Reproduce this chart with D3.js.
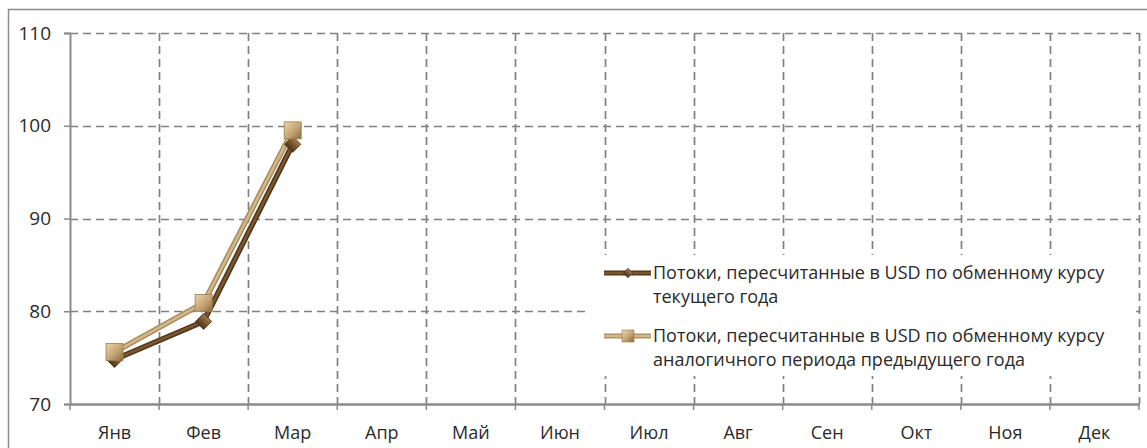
<!DOCTYPE html>
<html lang="ru">
<head>
<meta charset="UTF-8">
<title>Потоки</title>
<script src="https://cdn.jsdelivr.net/npm/d3@7"></script>
<style>
  body { margin: 0; background: #fff; }
  svg { display: block; font-family: "Open Sans", "Noto Sans", sans-serif; }
</style>
</head>
<body>
<div id="chart"></div>
<script>
const months = ["Янв", "Фев", "Мар", "Апр", "Май", "Июн", "Июл", "Авг", "Сен", "Окт", "Ноя", "Дек"];
const currentYear = [74.8, 78.9, 98.0];
const prevYear = [75.6, 80.9, 99.5];
const yTicks = [70, 80, 90, 100, 110];
const legendLabels = [
  ["Потоки, пересчитанные в USD по обменному курсу", "текущего года"],
  ["Потоки, пересчитанные в USD по обменному курсу", "аналогичного периода предыдущего года"]
];

const width = 1147, height = 448;
const marginLeft = 70, marginRight = 8, marginTop = 33, marginBottom = 44;
const font = "'Open Sans', 'Noto Sans', sans-serif";

const svg = d3.select("#chart").append("svg")
  .attr("width", width)
  .attr("height", height);

const defs = svg.append("defs");
const gradDark = defs.append("linearGradient").attr("id", "gDark")
  .attr("x1", 0).attr("y1", 0).attr("x2", 0).attr("y2", 1);
gradDark.append("stop").attr("offset", "0%").attr("stop-color", "#a07a4a");
gradDark.append("stop").attr("offset", "100%").attr("stop-color", "#4e3418");
const gradLight = defs.append("linearGradient").attr("id", "gLight")
  .attr("x1", 0).attr("y1", 0).attr("x2", 1).attr("y2", 1);
gradLight.append("stop").attr("offset", "0%").attr("stop-color", "#ead6ae");
gradLight.append("stop").attr("offset", "55%").attr("stop-color", "#c4a472");
gradLight.append("stop").attr("offset", "100%").attr("stop-color", "#8a6a3e");

// outer frame
svg.append("path")
  .attr("d", `M8.5,${height} V9.5 H${width}`)
  .attr("fill", "none")
  .attr("stroke", "#8c8c8c")
  .attr("stroke-width", 1.5);

const x = d3.scaleBand()
  .domain(months)
  .range([marginLeft, width - marginRight]);

const y = d3.scaleLinear()
  .domain([70, 110])
  .range([height - marginBottom, marginTop]);

// grid
const grid = svg.append("g")
  .attr("stroke", "#808080")
  .attr("stroke-width", 1.7)
  .attr("stroke-dasharray", "8,5");
grid.selectAll(".hg")
  .data(yTicks.filter(d => d > 70))
  .join("line")
  .attr("x1", marginLeft).attr("x2", width - marginRight)
  .attr("y1", d => Math.round(y(d)) + 0.5).attr("y2", d => Math.round(y(d)) + 0.5);
grid.selectAll(".vg")
  .data(months.map(m => x(m) + x.bandwidth()))
  .join("line")
  .attr("x1", d => Math.round(d) + 0.5).attr("x2", d => Math.round(d) + 0.5)
  .attr("y1", y(110)).attr("y2", y(70));

// x axis
const xAxis = svg.append("g")
  .attr("transform", `translate(0,${y(70)})`)
  .call(d3.axisBottom(x).tickSize(0).tickPadding(22))
  .attr("font-family", font)
  .attr("font-size", 18)
  .call(g => g.select(".domain").attr("stroke", "#8a8a8a").attr("stroke-width", 2.5));
xAxis.selectAll("text").attr("fill", "#2a2a2a");
xAxis.selectAll(".boundary")
  .data([x.range()[0], ...months.map(m => x(m) + x.bandwidth())])
  .join("line")
  .attr("x1", d => d).attr("x2", d => d)
  .attr("y1", 0).attr("y2", 6)
  .attr("stroke", "#8a8a8a")
  .attr("stroke-width", 1.5);

// y axis
svg.append("g")
  .attr("transform", `translate(${marginLeft},0)`)
  .call(d3.axisLeft(y).tickValues(yTicks).tickSize(6).tickPadding(13))
  .attr("font-family", font)
  .attr("font-size", 19)
  .call(g => g.select(".domain").attr("stroke", "#8a8a8a").attr("stroke-width", 2))
  .call(g => g.selectAll(".tick line").attr("stroke", "#8a8a8a").attr("stroke-width", 1.5))
  .call(g => g.selectAll(".tick text").attr("fill", "#2a2a2a"));

const cx = (d, i) => x(months[i]) + x.bandwidth() / 2;
const line = d3.line().x(cx).y(d => y(d));

function drawLine(data, outer, inner) {
  svg.append("path").datum(data)
    .attr("fill", "none").attr("stroke", outer).attr("stroke-width", 5.5)
    .attr("stroke-linejoin", "round").attr("d", line);
  svg.append("path").datum(data)
    .attr("fill", "none").attr("stroke", inner).attr("stroke-width", 2.5)
    .attr("stroke-linejoin", "round").attr("d", line);
}

drawLine(currentYear, "#4f3519", "#7a5730");
drawLine(prevYear, "#a88a5c", "#d2b88a");

svg.append("g").selectAll("path")
  .data(currentYear)
  .join("path")
  .attr("d", d3.symbol().type(d3.symbolSquare).size(130))
  .attr("transform", (d, i) => `translate(${cx(d, i)},${y(d)}) rotate(45)`)
  .attr("fill", "url(#gDark)")
  .attr("stroke", "#4a3116")
  .attr("stroke-width", 0.8);

svg.append("g").selectAll("rect")
  .data(prevYear)
  .join("rect")
  .attr("x", (d, i) => cx(d, i) - 8.5)
  .attr("y", d => y(d) - 8.5)
  .attr("width", 17)
  .attr("height", 17)
  .attr("fill", "url(#gLight)")
  .attr("stroke", "#9a7b4e")
  .attr("stroke-width", 0.8);

// legend
const lx = 590, ly = 255;
svg.append("rect")
  .attr("x", lx).attr("y", ly)
  .attr("width", 544).attr("height", 121)
  .attr("fill", "#fff");

const legend = svg.append("g").attr("font-size", 18).attr("fill", "#2a2a2a");
const rows = [
  { y: 273, outer: "#4f3519", inner: "#7a5730", kind: "diamond" },
  { y: 336, outer: "#a88a5c", inner: "#d2b88a", kind: "square" }
];
rows.forEach((r, k) => {
  legend.append("line")
    .attr("x1", 604).attr("x2", 651).attr("y1", r.y).attr("y2", r.y)
    .attr("stroke", r.outer).attr("stroke-width", 5);
  legend.append("line")
    .attr("x1", 604).attr("x2", 651).attr("y1", r.y).attr("y2", r.y)
    .attr("stroke", r.inner).attr("stroke-width", 2.5);
  if (r.kind === "diamond") {
    legend.append("path")
      .attr("d", d3.symbol().type(d3.symbolSquare).size(45))
      .attr("transform", `translate(628,${r.y}) rotate(45)`)
      .attr("fill", "url(#gDark)").attr("stroke", "#4a3116").attr("stroke-width", 0.6);
  } else {
    legend.append("rect")
      .attr("x", 622).attr("y", r.y - 6).attr("width", 12).attr("height", 12)
      .attr("fill", "url(#gLight)").attr("stroke", "#9a7b4e").attr("stroke-width", 0.6);
  }
  const t = legend.append("text").attr("x", 653).attr("y", r.y + 6);
  t.append("tspan").attr("x", 653).text(legendLabels[k][0]);
  t.append("tspan").attr("x", 653).attr("dy", 24).text(legendLabels[k][1]);
});
</script>
</body>
</html>
